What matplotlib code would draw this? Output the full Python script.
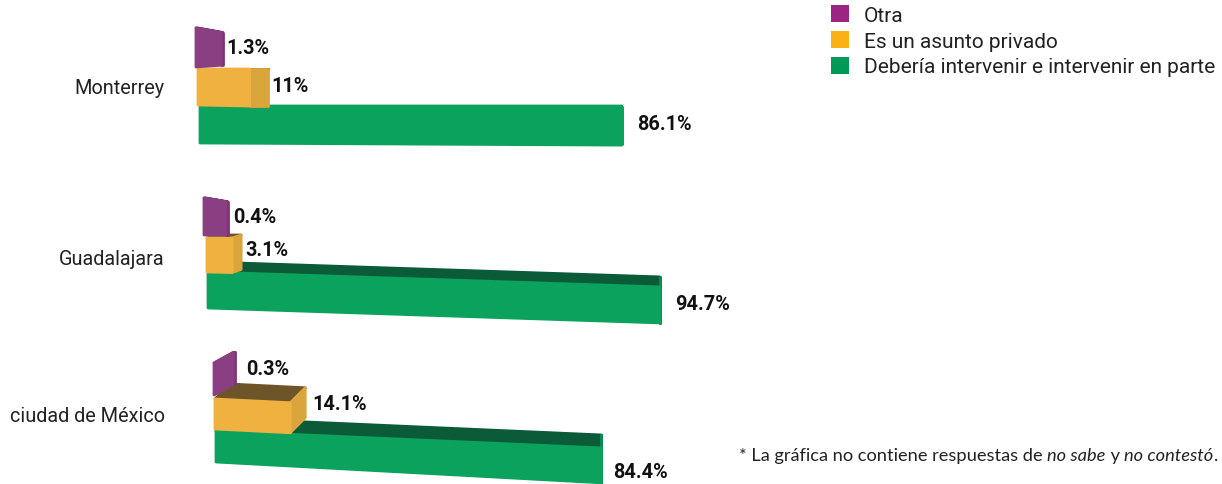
import matplotlib
matplotlib.use("Agg")
import matplotlib.pyplot as plt
from matplotlib.patches import Patch, Polygon

plt.rcParams["font.family"] = ["Roboto", "DejaVu Sans"]

cities = ["Monterrey", "Guadalajara", "ciudad de México"]
series_names = ["Otra", "Es un asunto privado", "Debería intervenir e intervenir en parte"]

otra = [1.3, 0.4, 0.3]
privado = [11, 3.1, 14.1]
intervenir = [86.1, 94.7, 84.4]

value_text_otra = ["1.3%", "0.4%", "0.3%"]
value_text_privado = ["11%", "3.1%", "14.1%"]
value_text_intervenir = ["86.1%", "94.7%", "84.4%"]

# colores: frente, lado, arriba
GREEN = ("#0aa25c", "#0a8a50", "#0b5a38")
ORANGE = ("#efb13f", "#d9a53c", "#6d5529")
PURPLE = ("#8a3f82", "#7a3673", "#7a3673")
LEGEND_COLORS = ["#9b2583", "#f9b115", "#009a57"]

# geometria a mano: la grafica original esta en perspectiva
# x0, y0, alto, pend. arriba, pend. abajo, dx, dy, base, hueco etiqueta
PX_PER_UNIT = [4.69, 4.56, 4.2]
CITY_Y = [88, 260, 417]
GEOM_OTRA = [
    (196, 29, 39, 0.18, -0.07, 2, 0, 21, 3),
    (204, 199, 37, 0.17, 0.0, 2, 0, 22, 5),
    (214, 364, 32, -0.55, -0.55, 2, 0, 20, 11),
]
GEOM_PRIVADO = [
    (198, 70, 36, 0.0, 0.02, 18, 0, 18, 4),
    (207, 239, 34, 0.0, 0.02, 9, -3, 20, 4),
    (215, 400, 30, 0.05, 0.05, 15, -15, 31, 7),
]
GEOM_INTERVENIR = [
    (200, 107, 37, 0.0, 0.005, 0, 0, 18, 15),
    (208, 273, 36, 0.033, 0.033, 0, -10, 20, 15),
    (216, 432, 31, 0.044, 0.054, 0, -13, 31, 12),
]
LABEL_Y = [
    [49, 87, 125],
    [218, 251, 305],
    [370, 405, 473],
]


def draw_bar(ax, value, k, geom, colors):
    """Barra con cara frontal, lado y tapa; el largo sale del valor."""
    x0, y0, h, s_top, s_bot, dx, dy, base, _ = geom
    length = base + k * value
    flen = length - dx
    x1 = x0 + flen
    y1_top = y0 + s_top * flen
    y1_bot = y0 + h + s_bot * flen

    faces = [
        ([(x0, y0), (x1, y1_top), (x1 + dx, y1_top + dy), (x0 + dx, y0 + dy)], colors[2]),
        ([(x1, y1_top), (x1, y1_bot), (x1 + dx, y1_bot + dy), (x1 + dx, y1_top + dy)], colors[1]),
        ([(x0, y0), (x1, y1_top), (x1, y1_bot), (x0, y0 + h)], colors[0]),
    ]
    for pts, color in faces:
        ax.add_patch(Polygon(pts, closed=True, facecolor=color, edgecolor=color,
                             linewidth=2, joinstyle="round"))
    return x0 + length


fig = plt.figure(figsize=(12.22, 4.85), dpi=100)
ax = fig.add_axes([0, 0, 1, 1])
ax.set_xlim(0, 1222)
ax.set_ylim(485, 0)
ax.axis("off")

for i, city in enumerate(cities):
    ax.text(165, CITY_Y[i], city, ha="right", va="center", fontsize=14.3, color="#222222")

    rows = [
        (intervenir[i], GEOM_INTERVENIR[i], GREEN, value_text_intervenir[i], LABEL_Y[i][2]),
        (privado[i], GEOM_PRIVADO[i], ORANGE, value_text_privado[i], LABEL_Y[i][1]),
        (otra[i], GEOM_OTRA[i], PURPLE, value_text_otra[i], LABEL_Y[i][0]),
    ]
    for value, geom, colors, label, label_y in rows:
        end_x = draw_bar(ax, value, PX_PER_UNIT[i], geom, colors)
        ax.text(end_x + geom[8], label_y, label, ha="left", va="center",
                fontsize=14.3, fontweight="bold", color="#111111")

handles = [Patch(facecolor=c, edgecolor="none") for c in LEGEND_COLORS]
ax.legend(handles, series_names, loc="upper left", bbox_to_anchor=(831 / 1222, 1 - 6 / 485),
          frameon=False, fontsize=15, handlelength=0.87, handleheight=0.87,
          handletextpad=0.7, labelspacing=0.3, borderpad=0, borderaxespad=0,
          labelcolor="#222222")

# nota al pie con partes en cursiva
note_parts = [
    ("* La gráfica no contiene respuestas de ", "normal"),
    ("no sabe", "italic"),
    (" y ", "normal"),
    ("no contestó", "italic"),
    (".", "normal"),
]
prev = None
for part, style in note_parts:
    if prev is None:
        prev = ax.text(739, 456, part, fontsize=13.15, style=style, va="center",
                       color="#222222", family=["Lato", "DejaVu Sans"])
    else:
        prev = ax.annotate(part, xy=(1, 0), xycoords=prev, xytext=(0, 0),
                           textcoords="offset points", va="bottom", fontsize=13.15,
                           style=style, color="#222222", family=["Lato", "DejaVu Sans"])

fig.savefig("out.png", dpi=100)
plt.close(fig)
